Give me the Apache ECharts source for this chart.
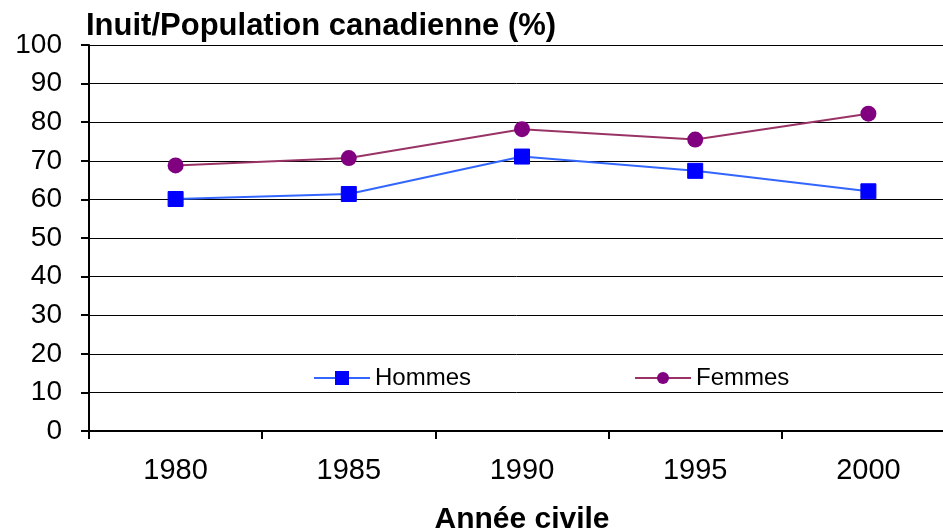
<!DOCTYPE html>
<html>
<head>
<meta charset="utf-8">
<script src="https://cdn.jsdelivr.net/npm/echarts@6/dist/echarts.min.js"></script>
<style>
	html, body { margin: 0; padding: 0; background: #fff; }
	#chart { width: 943px; height: 531px; }
</style>
</head>
<body>
<div id="chart"></div>
<script>
	// données
	const annees = ['1980', '1985', '1990', '1995', '2000'];
	const hommes = [60.1, 61.4, 71.1, 67.4, 62.1];
	const femmes = [68.8, 70.7, 78.2, 75.5, 82.2];
	const yTicks = [0, 100, 10]; // min, max, interval

	const font = '"Liberation Sans", Arial, sans-serif';
	const chart = echarts.init(document.getElementById('chart'));

	const option = {
		backgroundColor: '#fff',
		animation: false,
		title: {
			text: 'Inuit/Population canadienne (%)',
			left: 81,
			top: 6,
			textStyle: { fontFamily: font, fontSize: 31, fontWeight: 'bold', color: '#000' }
		},
		legend: {
			left: 308,
			top: 361,
			itemWidth: 56,
			itemHeight: 15,
			itemGap: 163,
			textStyle: { fontFamily: font, fontSize: 24, color: '#000' },
			data: ['Hommes', 'Femmes']
		},
		grid: { left: 89, right: -12, top: 45, bottom: 100, outerBoundsMode: 'none' },
		xAxis: {
			type: 'category',
			data: annees,
			boundaryGap: true,
			name: 'Année civile',
			nameLocation: 'middle',
			nameGap: 74,
			nameTextStyle: { fontFamily: font, fontSize: 30, fontWeight: 'bold', color: '#000' },
			axisLine: { lineStyle: { color: '#000', width: 2 } },
			axisTick: { show: true, length: 8, lineStyle: { color: '#000', width: 2 } },
			axisLabel: { margin: 25, fontFamily: font, fontSize: 29, color: '#000' }
		},
		yAxis: {
			type: 'value',
			min: yTicks[0],
			max: yTicks[1],
			interval: yTicks[2],
			axisLine: { show: true, lineStyle: { color: '#000', width: 2 } },
			axisTick: { show: true, length: 8, lineStyle: { color: '#000', width: 2 } },
			axisLabel: { margin: 27, fontFamily: font, fontSize: 28, color: '#000' },
			splitLine: { lineStyle: { color: '#000', width: 1 } }
		},
		series: [{
			name: 'Hommes',
			type: 'line',
			data: hommes,
			symbol: 'rect',
			symbolSize: 15,
			lineStyle: { color: '#3366ff', width: 2 },
			itemStyle: { color: '#0000ff', borderColor: '#0000ff', borderWidth: 1 }
		}, {
			name: 'Femmes',
			type: 'line',
			data: femmes,
			symbol: 'circle',
			symbolSize: 16,
			lineStyle: { color: '#993366', width: 2 },
			itemStyle: { color: '#800080', borderWidth: 0 }
		}]
	};
	chart.setOption(option);
</script>
</body>
</html>
